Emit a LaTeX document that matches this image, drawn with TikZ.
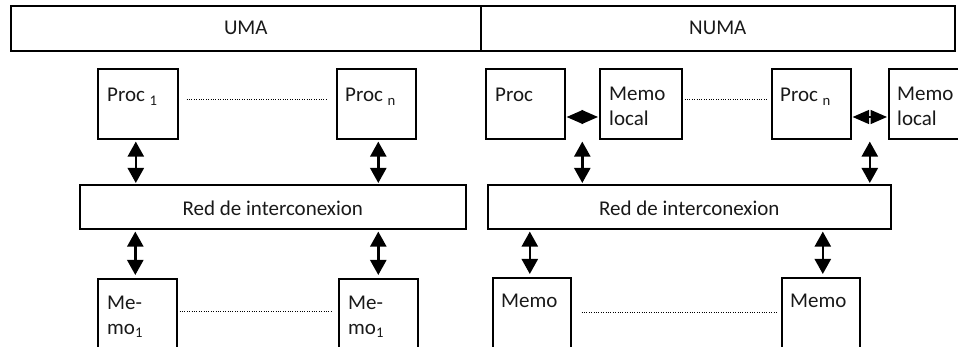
\documentclass[tikz,border=0pt]{standalone}
\usepackage{fontspec}
\setmainfont{Carlito}
\usetikzlibrary{arrows.meta,calc}
\begin{document}
\begin{tikzpicture}[x=1pt,y=-1pt,
  box/.style={draw,line width=1.6pt,inner sep=0pt,anchor=north west},
  lbl/.style={inner sep=0pt,anchor=base west,font=\fontsize{21}{25}\selectfont,text=black!90},
  ctr/.style={font=\fontsize{21}{25}\selectfont,text=black!90},
  dotline/.style={line width=1pt,dash pattern=on 1pt off 1.4pt},
  dar/.style={line width=2.4pt,{Triangle[width=16pt,length=15pt]}-{Triangle[width=16pt,length=15pt]}},
  har/.style={line width=1.5pt,{Triangle[width=14pt,length=16.5pt]}-{Triangle[width=14pt,length=16.5pt]}}]
\useasboundingbox (0,0) rectangle (958,347);
\clip (0,0) rectangle (958,347);
% headers
\node[box,minimum width=470pt,minimum height=45pt] (uma) at (10,5) {};
\node[ctr] at (uma.center) {UMA};
\node[box,minimum width=474pt,minimum height=45pt] (numa) at (480,5) {};
\node[ctr] at (numa.center) {NUMA};
% ---------- UMA ----------
\node[box,minimum width=80pt,minimum height=70pt] (p1) at (97,68) {};
\node[box,minimum width=79pt,minimum height=70pt] (pn) at (336,68) {};
\node[lbl] at ($(p1.north west)+(10,34)$) {Proc \textsubscript{1}};
\node[lbl] at ($(pn.north west)+(9,34)$) {Proc \textsubscript{n}};
\draw[dotline] ($(p1.north east)+(8,32)$) -- ($(pn.north west)+(-8,32)$);
\node[box,minimum width=386pt,minimum height=44pt] (r1) at (79,184) {};
\node[ctr] at ($(r1.center)+(0,1)$) {Red de interconexion};
\node[box,minimum width=79pt,minimum height=90pt] (m1) at (97,278) {};
\node[box,minimum width=79pt,minimum height=90pt] (m2) at (338,278) {};
\node[lbl,align=left,anchor=north west] at ($(m1.north west)+(10,18)$) {Me-\\mo\textsubscript{1}};
\node[lbl,align=left,anchor=north west] at ($(m2.north west)+(10,18)$) {Me-\\mo\textsubscript{1}};
\draw[dotline] ($(m1.north east)+(2,33)$) -- ($(m2.north west)+(-5,33)$);
\draw[dar] ($(p1.south)+(-2,2)$) -- ($(p1.south |- r1.north)+(-2,-1)$);
\draw[dar] ($(pn.south)+(2,2)$) -- ($(pn.south |- r1.north)+(2,-1)$);
\draw[dar] ($(m1.north)+(-2,-3)$) -- ($(m1.north |- r1.south)+(-2,2)$);
\draw[dar] ($(m2.north)+(0,-3)$) -- ($(m2.north |- r1.south)+(0,2)$);
% ---------- NUMA ----------
\node[box,minimum width=79pt,minimum height=70pt] (q1) at (485,68) {};
\node[box,minimum width=82pt,minimum height=70pt] (l1) at (599,68) {};
\node[box,minimum width=79pt,minimum height=70pt] (qn) at (771,68) {};
\node[box,minimum width=80pt,minimum height=70pt] (l2) at (888,68) {};
\node[lbl] at ($(q1.north west)+(10,34)$) {Proc};
\node[lbl,align=left,anchor=north west] at ($(l1.north west)+(10,19)$) {Memo\\local};
\node[lbl] at ($(qn.north west)+(9,34)$) {Proc \textsubscript{n}};
\node[lbl,align=left,anchor=north west] at ($(l2.north west)+(9,19)$) {Memo\\local};
\draw[dotline] ($(l1.north east)+(2,32)$) -- ($(qn.north west)+(-4,32)$);
\draw[har] ($(q1.north east)+(1,49)$) coordinate (h1a) -- ($(l1.north west)+(-1,49)$) coordinate (h1b);
\draw[har] ($(qn.north east)+(1,49)$) coordinate (h2a) -- ($(l2.north west)+(-1,49)$) coordinate (h2b);
\node[box,minimum width=403pt,minimum height=44pt] (r2) at (487,184) {};
\node[ctr] at ($(r2.center)+(0,1)$) {Red de interconexion};
\coordinate (v1) at ($(h1a)!0.5!(h1b)$);
\coordinate (v2) at ($(h2a)!0.5!(h2b)$);
\draw[dar] (v1 |- q1.south) ++(0,2) -- ($(v1 |- r2.north)+(0,-1)$);
\draw[dar] (v2 |- qn.south) ++(0,2) -- ($(v2 |- r2.north)+(0,-1)$);
\node[box,minimum width=78pt,minimum height=90pt] (n1) at (492,277) {};
\node[box,minimum width=78pt,minimum height=90pt] (n2) at (781,277) {};
\node[lbl] at ($(n1.north west)+(9,31)$) {Memo};
\node[lbl] at ($(n2.north west)+(9,31)$) {Memo};
\draw[dotline] ($(n1.north east)+(10,35)$) -- ($(n2.north west)+(-3,35)$);
\draw[dar] ($(n1.north)+(-2,-3)$) -- ($(n1.north |- r2.south)+(-2,2)$);
\draw[dar] ($(n2.north)+(2,-3)$) -- ($(n2.north |- r2.south)+(2,2)$);
\end{tikzpicture}
\end{document}
